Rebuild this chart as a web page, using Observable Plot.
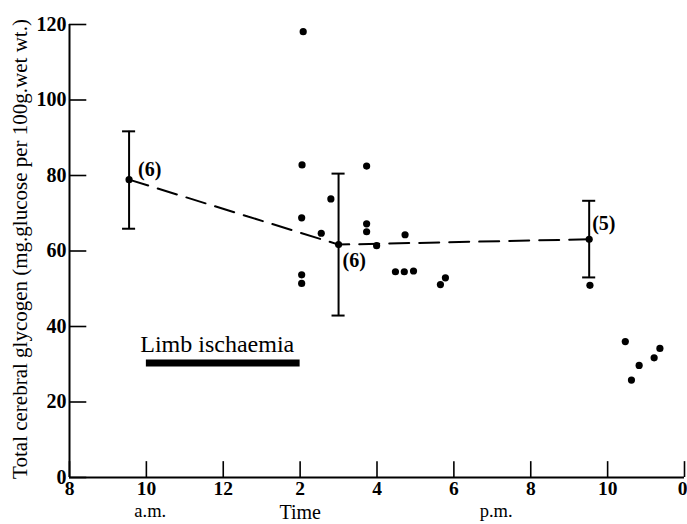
<!DOCTYPE html>
<html>
<head>
<meta charset="utf-8">
<script src="https://cdn.jsdelivr.net/npm/d3@7"></script>
<script src="https://cdn.jsdelivr.net/npm/@observablehq/plot@0.6"></script>
<style>
  html, body { margin: 0; padding: 0; background: #fff; }
</style>
</head>
<body>
<div id="chart"></div>
<script>
// ---- Data ----
// Hours of the day (8 = 8 a.m., 24 = midnight)
const xTicks = [8, 10, 12, 14, 16, 18, 20, 22, 24];
const xTickLabels = ["8", "10", "12", "2", "4", "6", "8", "10", "0"];
const yTicks = [0, 20, 40, 60, 80, 100, 120];

// Group means with error bars
const meanTime = [9.55, 15.0, 21.52];
const meanValue = [78.9, 61.7, 63.1];
const errHigh = [91.7, 80.5, 73.3];
const errLow = [65.9, 42.9, 53.0];
const groupN = ["(6)", "(6)", "(5)"];

// Individual animals
const pointTime = [14.08, 14.05, 15.73, 14.80, 14.04, 15.73, 15.73, 14.55, 15.99, 16.73,
  14.04, 14.04, 16.48, 16.71, 16.95, 17.65, 17.78, 21.54,
  22.46, 23.36, 23.21, 22.82, 22.62];
const pointValue = [118.1, 82.8, 82.5, 73.8, 68.8, 67.2, 65.1, 64.7, 61.4, 64.3,
  53.7, 51.4, 54.5, 54.5, 54.7, 51.1, 52.9, 50.9,
  36.0, 34.2, 31.7, 29.7, 25.8];

// Limb ischaemia period
const ischaemiaStart = 10;
const ischaemiaEnd = 14;
const ischaemiaLevel = 30.3;
const ischaemiaLabel = "Limb ischaemia";

const yTitle = "Total cerebral glycogen (mg.glucose per 100g.wet wt.)";
const xTitle = "Time";
const amLabel = {t: 10.1, text: "a.m."};
const pmLabel = {t: 19.1, text: "p.m."};

// ---- Tables built from the arrays ----
const means = meanTime.map((t, i) => ({t, v: meanValue[i], hi: errHigh[i], lo: errLow[i], n: groupN[i]}));
const points = pointTime.map((t, i) => ({t, v: pointValue[i]}));
const xTickData = xTicks.map((t, i) => ({t, label: xTickLabels[i]}));
const lastTick = xTickData.length - 1;

const capHalf = 0.17; // half-width of error-bar caps, in hours
const tickLenY = 4.2;  // length of inward x ticks, in y units
const tickLenX = 0.45; // length of inward y ticks, in hours

const serif = "Liberation Serif, Times New Roman, serif";

const chart = Plot.plot({
  width: 687,
  height: 524,
  marginLeft: 69,
  marginRight: 3,
  marginTop: 24,
  marginBottom: 47,
  x: {domain: [8, 24], axis: null},
  y: {domain: [0, 120], axis: null},
  style: {fontFamily: serif, background: "white", color: "black"},
  marks: [
    // axes lines
    Plot.ruleX([8], {stroke: "black", strokeWidth: 2}),
    Plot.ruleY([0], {stroke: "black", strokeWidth: 2}),
    // inward ticks
    Plot.ruleX(xTicks, {x: d => d, y1: 0, y2: tickLenY, stroke: "black", strokeWidth: 1.6}),
    Plot.ruleY(yTicks, {y: d => d, x1: 8, x2: 8 + tickLenX, stroke: "black", strokeWidth: 1.6}),
    // tick labels
    Plot.text(xTickData.slice(0, lastTick), {x: "t", y: 0, text: "label", dy: 11, lineAnchor: "middle",
      fontSize: 19.5, fontWeight: "bold", fill: "black"}),
    Plot.text(xTickData.slice(lastTick), {x: "t", y: 0, text: "label", dy: 11, dx: 3, textAnchor: "end",
      lineAnchor: "middle", fontSize: 19.5, fontWeight: "bold", fill: "black"}),
    Plot.text(yTicks, {x: 8, y: d => d, text: d => String(d), dx: -3, textAnchor: "end",
      lineAnchor: "middle", fontSize: 20, fontWeight: "bold", fill: "black"}),
    // axis titles
    Plot.text([yTitle], {frameAnchor: "left", text: d => d, rotate: -90, dx: -49, dy: -2,
      textAnchor: "middle", fontSize: 21, fill: "black", lineAnchor: "middle"}),
    Plot.text([xTitle], {x: 14, y: 0, text: d => d, dy: 35, lineAnchor: "middle", fontSize: 20, fill: "black"}),
    Plot.text([amLabel, pmLabel], {x: "t", y: 0, text: "text", dy: 34, lineAnchor: "middle",
      fontSize: 18.5, fill: "black"}),
    // limb ischaemia bar
    Plot.ruleY([ischaemiaLevel], {y: d => d, x1: ischaemiaStart, x2: ischaemiaEnd, stroke: "black", strokeWidth: 7}),
    Plot.text([ischaemiaLabel], {x: (ischaemiaStart + ischaemiaEnd) / 2, y: ischaemiaLevel, text: d => d,
      dx: -6, dy: -11, lineAnchor: "bottom", fontSize: 24, fill: "black"}),
    // dashed mean line
    Plot.line(means, {x: "t", y: "v", stroke: "black", strokeWidth: 2, strokeDasharray: "20,10"}),
    // error bars
    Plot.ruleX(means, {x: "t", y1: "lo", y2: "hi", stroke: "black", strokeWidth: 2}),
    Plot.ruleY(means, {y: "hi", x1: d => d.t - capHalf, x2: d => d.t + capHalf, stroke: "black", strokeWidth: 2}),
    Plot.ruleY(means, {y: "lo", x1: d => d.t - capHalf, x2: d => d.t + capHalf, stroke: "black", strokeWidth: 2}),
    Plot.dot(means, {x: "t", y: "v", r: 3.6, fill: "black"}),
    // individual points
    Plot.dot(points, {x: "t", y: "v", r: 3.6, fill: "black"}),
    // n labels
    Plot.text(means.slice(0, 1), {x: "t", y: "v", text: "n", dx: 9, dy: -10, textAnchor: "start",
      lineAnchor: "middle", fontSize: 20, fontWeight: "bold", fill: "black"}),
    Plot.text(means.slice(1, 2), {x: "t", y: "v", text: "n", dx: 4, dy: 16, textAnchor: "start",
      lineAnchor: "middle", fontSize: 20, fontWeight: "bold", fill: "black"}),
    Plot.text(means.slice(2, 3), {x: "t", y: "v", text: "n", dx: 3, dy: -16, textAnchor: "start",
      lineAnchor: "middle", fontSize: 20, fontWeight: "bold", fill: "black"})
  ]
});

document.getElementById("chart").appendChild(chart);
</script>
</body>
</html>
